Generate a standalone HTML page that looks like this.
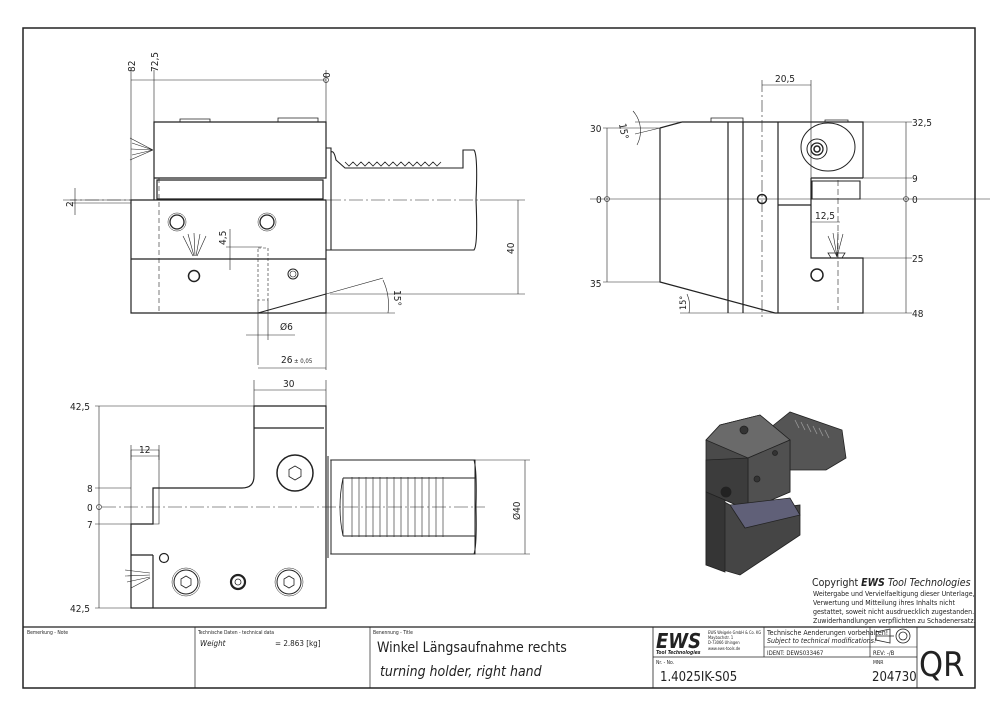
<!DOCTYPE html>
<html><head><meta charset="utf-8"><style>
body{margin:0;background:#fff;width:1000px;height:715px;overflow:hidden}
svg{display:block}
text{font-family:"DejaVu Sans Condensed","Liberation Sans",sans-serif;fill:#222}
</style></head><body>
<svg width="1000" height="715" viewBox="0 0 1000 715" xmlns="http://www.w3.org/2000/svg">
<g fill="none" stroke="#222" stroke-width="1">
<rect x="23" y="28" width="952" height="660" stroke-width="1.5"/>
<line x1="23" y1="627" x2="975" y2="627" stroke-width="1.2"/>
<line x1="195" y1="627" x2="195" y2="688" stroke-width="0.7"/>
<line x1="370" y1="627" x2="370" y2="688" stroke-width="0.7"/>
<line x1="653" y1="627" x2="653" y2="688" stroke-width="0.8"/>
<line x1="764" y1="627" x2="764" y2="657" stroke-width="0.7"/>
<line x1="870" y1="627" x2="870" y2="657" stroke-width="0.7"/>
<line x1="917" y1="627" x2="917" y2="688" stroke-width="0.8"/>
<line x1="653" y1="657" x2="917" y2="657" stroke-width="0.7"/>
<line x1="764" y1="647" x2="917" y2="647" stroke-width="0.5"/>

<g stroke-width="0.6">
<line x1="131" y1="70" x2="131" y2="200"/><line x1="154" y1="70" x2="154" y2="122"/><line x1="326" y1="70" x2="326" y2="122"/>
<line x1="131" y1="80" x2="326" y2="80"/>
<circle cx="326" cy="80" r="2.5"/>
<line x1="75" y1="188" x2="75" y2="215"/>
<line x1="70" y1="200" x2="154" y2="200"/><line x1="70" y1="203" x2="131" y2="203"/>
<line x1="230" y1="229" x2="230" y2="270"/><line x1="226" y1="247" x2="262" y2="247"/>
<line x1="258" y1="300" x2="258" y2="365"/><line x1="268" y1="300" x2="268" y2="340"/><line x1="326" y1="313" x2="326" y2="370"/>
<line x1="246" y1="335" x2="295" y2="335"/>
<line x1="258" y1="368" x2="326" y2="368"/>
<line x1="330" y1="294" x2="525" y2="294"/><line x1="480" y1="200" x2="525" y2="200"/>
<line x1="518" y1="200" x2="518" y2="294"/>
<line x1="326" y1="313" x2="395" y2="313"/>
<line x1="326" y1="294" x2="383" y2="278"/>
<path d="M383 280 A 60 60 0 0 1 388 313"/>
<line x1="63" y1="200" x2="480" y2="200" stroke-dasharray="14 3 2 3"/>
<line x1="159" y1="178" x2="159" y2="313" stroke-dasharray="5 3"/>
</g>
<path d="M154 122 H326 V178 H154 Z M131 200 H326 V313 H131 Z M131 259 H326 M154 178 V200 M157 180 H323 V199 H157 Z" stroke-width="1.2"/>
<path d="M180 122 V119 H210 V122 M278 122 V118 H318 V122" stroke-width="0.8"/>
<path d="M326 148 H331 V250 H326 M331 152 Q334 150 336 160 L345 168 H463 V150 H474 Q478 155 476 200 Q478 245 474 250 H331" stroke-width="1.1"/>
<path d="M345 162 l4 4 4-4 4 4 4-4 4 4 4-4 4 4 4-4 4 4 4-4 4 4 4-4 4 4 4-4 4 4 4-4 4 4 4-4 4 4 4-4 4 4 4-4 4 4 4-4" stroke-width="0.8"/>
<path d="M258 313 L326 294" stroke-width="1"/>
<path d="M258 248 H268 V300 H258 Z" stroke-dasharray="3 2" stroke-width="0.6"/>
<circle cx="177" cy="222" r="7" stroke-width="1.3"/><circle cx="177" cy="222" r="9" stroke-width="0.5"/>
<circle cx="267" cy="222" r="7" stroke-width="1.3"/><circle cx="267" cy="222" r="9" stroke-width="0.5"/>
<circle cx="194" cy="276" r="5.5" stroke-width="1.5"/>
<circle cx="293" cy="274" r="5" stroke-width="1"/><circle cx="293" cy="274" r="3" stroke-width="0.6"/>
<path d="M130 138 L153 150 M132 143 L153 150 M131 149 L153 150 M132 155 L153 150 M130 160 L153 150" stroke-width="0.6"/>
<path d="M183 236 L193 256 M188 234 L194 256 M194 233 L195 256 M200 234 L196 256 M206 236 L197 256" stroke-width="0.6"/>

<path d="M682 122 H863 V178 M660 128 L682 122 M660 128 V282 L775 313 H863 V258 H811 V205 H778 V122 M728 122 V313 M743 122 V313 M778 205 V313 M811 178 H863 M811 178 V205" stroke-width="1.2"/>
<path d="M812 181 H860 V199 H812 Z" stroke-width="1.1"/>
<path d="M711 122 V118 H743 V122 M825 122 V120 H848 V122" stroke-width="0.8"/>
<ellipse cx="828" cy="147" rx="27" ry="24" stroke-width="1"/>
<circle cx="817" cy="149" r="10" stroke-width="1"/><circle cx="817" cy="149" r="6" stroke-width="1.3"/><circle cx="817" cy="149" r="3" stroke-width="1.5"/>
<circle cx="762" cy="199" r="4.5" stroke-width="1.5"/>
<circle cx="817" cy="275" r="6" stroke-width="1.5"/>
<path d="M828 253 H845 L842 258 H831 Z" stroke-width="0.8"/>
<path d="M828 236 L837 257 M833 233 L837 257 M838 232 L837 257 M843 234 L837 257" stroke-width="0.6"/>
<g stroke-width="0.6">
<line x1="590" y1="199" x2="990" y2="199"/>
<line x1="762" y1="80" x2="762" y2="320" stroke-dasharray="12 3 2 3"/>
<line x1="838" y1="180" x2="838" y2="310" stroke-dasharray="6 3"/>
<line x1="762" y1="85" x2="811" y2="85"/><line x1="811" y1="80" x2="811" y2="180"/>
<line x1="811" y1="222" x2="840" y2="222"/>
<line x1="607" y1="128" x2="607" y2="282"/>
<line x1="603" y1="128" x2="660" y2="128"/><line x1="603" y1="282" x2="660" y2="282"/>
<line x1="906" y1="122" x2="906" y2="313"/>
<line x1="863" y1="122" x2="912" y2="122"/><line x1="863" y1="178" x2="912" y2="178"/><line x1="863" y1="258" x2="912" y2="258"/><line x1="863" y1="313" x2="912" y2="313"/>
<circle cx="607" cy="199" r="2.5"/><circle cx="906" cy="199" r="2.5"/>
<line x1="635" y1="122" x2="682" y2="122"/><line x1="635" y1="134" x2="660" y2="128"/>
<path d="M633 111 A 30 30 0 0 1 637 145"/>
<line x1="680" y1="313" x2="775" y2="313"/>
<path d="M687 294 A 30 30 0 0 1 689 313"/>
</g>

<path d="M254 406 H326 V608 H131 V524 H153 V488 H242 Q254 488 254 476 Z M254 428 H324 M153 555 V608 M131 555 H153" stroke-width="1.2"/>
<path d="M131 450 V524 M131 450 H159 V524 H131" stroke-width="0.6"/>
<path d="M328 456 V558 M331 460 H475 V554 H331 Z M474 460 Q477 470 476 507 Q477 545 474 554 M343 478 H475 M343 536 H475" stroke-width="1"/>
<path d="M343 478 Q337 507 343 536 M343 478 V536" stroke-width="0.8"/>
<g stroke-width="0.6">
<path d="M352 477 V537 M359 477 V537 M366 477 V537 M373 477 V537 M380 477 V537 M387 477 V537 M394 477 V537 M401 477 V537 M408 477 V537 M415 477 V537 M422 477 V537 M429 477 V537 M436 477 V537 M443 477 V537"/>
<line x1="330" y1="460" x2="530" y2="460"/><line x1="330" y1="554" x2="530" y2="554"/>
<line x1="525" y1="460" x2="525" y2="554"/>
<line x1="254" y1="380" x2="254" y2="406"/><line x1="326" y1="380" x2="326" y2="406"/>
<line x1="254" y1="390" x2="326" y2="390"/>
<line x1="131" y1="445" x2="131" y2="460"/><line x1="159" y1="445" x2="159" y2="460"/>
<line x1="131" y1="456" x2="159" y2="456"/>
<line x1="99" y1="406" x2="99" y2="608"/>
<line x1="95" y1="406" x2="254" y2="406"/><line x1="95" y1="608" x2="131" y2="608"/>
<line x1="95" y1="488" x2="131" y2="488"/><line x1="95" y1="524" x2="131" y2="524"/>
<circle cx="99" cy="507" r="2.5"/>
<line x1="102" y1="507" x2="485" y2="507" stroke-dasharray="14 3 2 3"/>
<path d="M125 570 L150 573 M125 576 L150 575 M127 582 L150 577 M131 588 L150 578"/>
</g>
<circle cx="295" cy="473" r="18" stroke-width="1.5"/><polygon points="295,466 301,469.5 301,476.5 295,480 289,476.5 289,469.5" stroke-width="0.8"/>
<circle cx="186" cy="582" r="12" stroke-width="1"/><circle cx="186" cy="582" r="14" stroke-width="0.5"/><polygon points="186,576 191,579 191,585 186,588 181,585 181,579" stroke-width="0.8"/>
<circle cx="289" cy="582" r="12" stroke-width="1"/><circle cx="289" cy="582" r="14" stroke-width="0.5"/><polygon points="289,576 294,579 294,585 289,588 284,585 284,579" stroke-width="0.8"/>
<circle cx="238" cy="582" r="7" stroke-width="2.2"/><circle cx="238" cy="582" r="3" stroke-width="0.8"/>
<circle cx="164" cy="558" r="4.5" stroke-width="1.2"/>
</g>

<g stroke="#222" stroke-width="0.8">
<polygon points="770,428 790,412 842,430 846,458 826,470 790,470" fill="#555"/>
<path d="M795 420 l4 8 M801 422 l4 8 M807 424 l4 8 M813 426 l4 8 M819 428 l4 8 M825 430 l4 8" stroke="#999"/>
<polygon points="706,440 720,425 760,415 790,440 790,492 748,510 706,492" fill="#4a4a4a"/>
<polygon points="706,440 720,425 760,415 790,440 748,458" fill="#6a6a6a"/>
<polygon points="748,458 790,440 790,492 748,510" fill="#505050"/>
<polygon points="706,460 748,458 748,510 706,492" fill="#3c3c3c"/>
<polygon points="706,492 730,505 742,512 800,505 800,535 740,575 706,565" fill="#454545"/>
<polygon points="730,505 790,498 800,515 745,528" fill="#606078"/>
<polygon points="706,492 725,500 725,572 706,565" fill="#353535"/>
<circle cx="726" cy="492" r="5" fill="#222"/>
<circle cx="744" cy="430" r="4" fill="#333"/><circle cx="757" cy="479" r="3" fill="#333"/><circle cx="775" cy="453" r="2.5" fill="#333"/>
</g>
</g>

<g font-size="10">
<text x="135" y="72" transform="rotate(-90 135 72)">82</text>
<text x="158" y="72" transform="rotate(-90 158 72)">72,5</text>
<text x="330" y="78" transform="rotate(-90 330 78)">0</text>
<text x="73" y="207" transform="rotate(-90 73 207)">2</text>
<text x="226" y="245" transform="rotate(-90 226 245)">4,5</text>
<text x="514" y="254" transform="rotate(-90 514 254)">40</text>
<text x="394" y="290" transform="rotate(90 394 290)">15°</text>
<text x="280" y="330">Ø6</text>
<text x="281" y="363">26</text><text x="294" y="363" font-size="6">± 0,05</text>
<text x="775" y="82">20,5</text>
<text x="590" y="132">30</text><text x="596" y="203">0</text><text x="590" y="287">35</text>
<text x="912" y="126">32,5</text><text x="912" y="182">9</text><text x="912" y="203">0</text><text x="912" y="262">25</text><text x="912" y="317">48</text>
<text x="815" y="219">12,5</text>
<text x="619" y="124" transform="rotate(80 619 124)">15°</text>
<text x="686" y="310" transform="rotate(-90 686 310)" font-size="9">15°</text>
<text x="283" y="387">30</text>
<text x="70" y="410">42,5</text><text x="70" y="612">42,5</text>
<text x="87" y="492">8</text><text x="87" y="511">0</text><text x="87" y="528">7</text>
<text x="139" y="453">12</text>
<text x="520" y="520" transform="rotate(-90 520 520)">Ø40</text>
</g>
<text x="812" y="586" font-family="Liberation Sans" font-size="10.5">Copyright <tspan font-weight="bold" font-style="italic">EWS</tspan> <tspan font-style="italic">Tool Technologies</tspan></text>
<g font-family="Liberation Sans" font-size="7">
<text x="813" y="596">Weitergabe und Vervielfaeltigung dieser Unterlage,</text>
<text x="813" y="605">Verwertung und Mitteilung ihres Inhalts nicht</text>
<text x="813" y="614">gestattet, soweit nicht ausdruecklich zugestanden.</text>
<text x="813" y="623">Zuwiderhandlungen verpflichten zu Schadenersatz.</text>
</g>
<g font-size="5">
<text x="27" y="634">Bemerkung - Note</text>
<text x="198" y="634">Technische Daten - technical data</text>
<text x="373" y="634">Benennung - Title</text>
<text x="656" y="664">Nr. - No.</text><text x="873" y="664">MNR</text>
<text x="708" y="634" font-size="4">EWS Weigele GmbH &amp; Co. KG</text>
<text x="708" y="639" font-size="4">Maybachstr. 1</text>
<text x="708" y="644" font-size="4">D-73066 Uhingen</text>
<text x="708" y="650" font-size="4">www.ews-tools.de</text>
</g>
<text x="200" y="646" font-size="8" font-style="italic">Weight</text>
<text x="275" y="646" font-size="8">= 2.863 [kg]</text>
<text x="377" y="652" font-size="14">Winkel Längsaufnahme rechts</text>
<text x="380" y="676" font-size="14" font-style="italic">turning holder, right hand</text>
<text x="656" y="648" font-family="Liberation Sans" font-size="20" font-weight="bold" font-style="italic">EWS</text>
<text x="656" y="654" font-size="5" font-weight="bold" font-style="italic">Tool Technologies</text>
<text x="767" y="635" font-size="7">Technische Aenderungen vorbehalten!</text>
<text x="767" y="643" font-size="7" font-style="italic">Subject to technical modifications!</text>
<text x="767" y="655" font-size="6">IDENT:  DEWS033467</text>
<text x="873" y="655" font-size="6">REV:  -/B</text>
<text x="660" y="681" font-size="13">1.4025IK-S05</text>
<text x="872" y="681" font-size="13">204730</text>
<text x="919" y="676" font-size="34">QR</text>
<g fill="none" stroke="#222" stroke-width="0.8">
<path d="M876 632 L890 629 V643 L876 640 Z M876 636 H894"/>
<circle cx="903" cy="636" r="7"/><circle cx="903" cy="636" r="4"/>
</g>
</svg>
</body></html>
